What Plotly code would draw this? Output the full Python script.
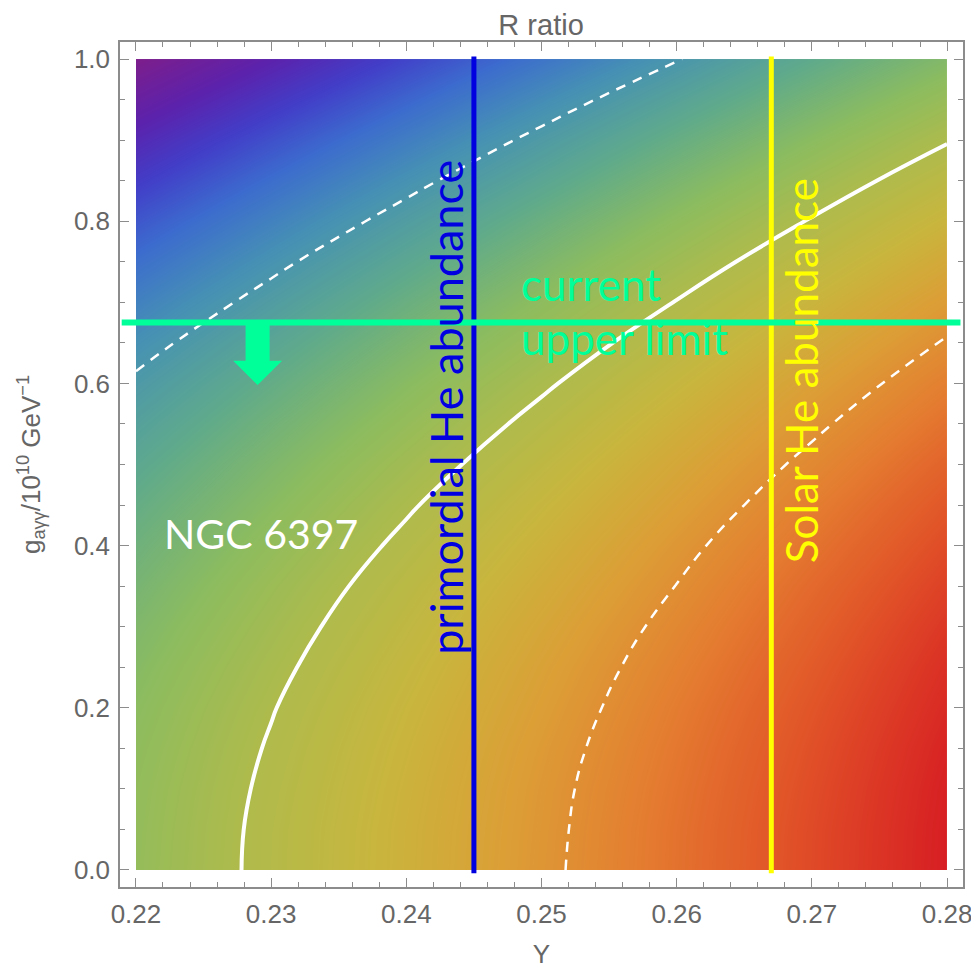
import plotly.graph_objects as go

# ---------------- data ----------------
Y_vals = [0.22, 0.23, 0.24, 0.25, 0.26, 0.27, 0.28]
g_vals = [0.00, 0.05, 0.10, 0.15, 0.20, 0.25, 0.30, 0.35, 0.40, 0.45, 0.50,
          0.55, 0.60, 0.65, 0.70, 0.75, 0.80, 0.85, 0.90, 0.95, 1.00]

# estimated R ratio on the (g, Y) grid: rows follow g_vals, columns follow Y_vals
R_grid = [
    [1.333, 1.406, 1.479, 1.553, 1.626, 1.699, 1.772],
    [1.331, 1.405, 1.478, 1.551, 1.625, 1.698, 1.771],
    [1.328, 1.401, 1.474, 1.548, 1.621, 1.694, 1.768],
    [1.322, 1.395, 1.468, 1.542, 1.615, 1.688, 1.762],
    [1.314, 1.387, 1.460, 1.533, 1.607, 1.680, 1.753],
    [1.303, 1.376, 1.449, 1.523, 1.596, 1.669, 1.743],
    [1.290, 1.363, 1.436, 1.510, 1.583, 1.656, 1.730],
    [1.274, 1.348, 1.421, 1.494, 1.567, 1.641, 1.714],
    [1.256, 1.330, 1.403, 1.476, 1.550, 1.623, 1.696],
    [1.236, 1.309, 1.383, 1.456, 1.529, 1.603, 1.676],
    [1.213, 1.287, 1.360, 1.433, 1.507, 1.580, 1.653],
    [1.188, 1.262, 1.335, 1.408, 1.482, 1.555, 1.628],
    [1.161, 1.234, 1.308, 1.381, 1.454, 1.528, 1.601],
    [1.131, 1.205, 1.278, 1.351, 1.425, 1.498, 1.571],
    [1.099, 1.172, 1.246, 1.319, 1.392, 1.466, 1.539],
    [1.065, 1.138, 1.211, 1.285, 1.358, 1.431, 1.504],
    [1.028, 1.101, 1.174, 1.248, 1.321, 1.394, 1.467],
    [0.988, 1.062, 1.135, 1.208, 1.282, 1.355, 1.428],
    [0.947, 1.020, 1.093, 1.167, 1.240, 1.313, 1.386],
    [0.903, 0.976, 1.049, 1.123, 1.196, 1.269, 1.342],
    [0.856, 0.929, 1.003, 1.076, 1.149, 1.223, 1.296],
]

R_obs = 1.39      # solid contour (NGC 6397)
R_low = 1.152     # dashed contour, lower
R_high = 1.566    # dashed contour, upper

Y_primordial = 0.245
Y_solar = 0.267
g_limit = 0.675

x_ticks = [0.22, 0.23, 0.24, 0.25, 0.26, 0.27, 0.28]
y_ticks = [0.0, 0.2, 0.4, 0.6, 0.8, 1.0]

# ---------------- styling ----------------
rainbow = [
    [0.00, "rgb(125,30,140)"],
    [0.08, "rgb(92,34,172)"],
    [0.15, "rgb(66,62,200)"],
    [0.22, "rgb(60,108,206)"],
    [0.30, "rgb(70,145,180)"],
    [0.40, "rgb(95,170,140)"],
    [0.50, "rgb(140,188,95)"],
    [0.58, "rgb(174,187,76)"],
    [0.66, "rgb(200,182,62)"],
    [0.74, "rgb(220,158,54)"],
    [0.82, "rgb(228,124,48)"],
    [0.90, "rgb(225,84,40)"],
    [1.00, "rgb(215,30,35)"],
]

label_family = "Liberation Sans, Arial, sans-serif"
axis_font = dict(family=label_family, size=26, color="#666666")
note_font = "Lato, Open Sans, sans-serif"
frame_col = "#8c8c8c"
green = "#00ff99"
blue = "#0000e0"
yellow = "#ffff00"

fig = go.Figure()

# smooth colour field
fig.add_trace(go.Contour(
    x=Y_vals, y=g_vals, z=R_grid,
    colorscale=rainbow, zmin=min(min(r) for r in R_grid), zmax=max(max(r) for r in R_grid),
    contours=dict(coloring="heatmap", showlines=False),
    line=dict(width=0),
    showscale=False, hoverinfo="skip",
))
# solid contour
fig.add_trace(go.Contour(
    x=Y_vals, y=g_vals, z=R_grid,
    contours=dict(coloring="none", start=R_obs, end=R_obs, size=1),
    line=dict(color="white", width=4, smoothing=1.3),
    showscale=False, hoverinfo="skip",
))
# dashed contours
fig.add_trace(go.Contour(
    x=Y_vals, y=g_vals, z=R_grid,
    contours=dict(coloring="none", start=R_low, end=R_high, size=R_high - R_low),
    line=dict(color="white", width=2.5, dash="10px,8px", smoothing=1.3),
    showscale=False, hoverinfo="skip",
))

# arrow below the current upper limit
arrow_x = 0.229
arrow_head_base = 0.628
arrow_tip = 0.598
shaft_hw = 0.00089
head_hw = 0.00181
arrow_path = (
    f"M {arrow_x - shaft_hw},{g_limit} L {arrow_x + shaft_hw},{g_limit} "
    f"L {arrow_x + shaft_hw},{arrow_head_base} L {arrow_x + head_hw},{arrow_head_base} "
    f"L {arrow_x},{arrow_tip} L {arrow_x - head_hw},{arrow_head_base} "
    f"L {arrow_x - shaft_hw},{arrow_head_base} Z"
)

shapes = [
    dict(type="line", xref="x", yref="y", x0=Y_primordial, x1=Y_primordial, y0=-0.004, y1=1.003,
         line=dict(color=blue, width=5)),
    dict(type="line", xref="x", yref="y", x0=Y_solar, x1=Y_solar, y0=-0.004, y1=1.003,
         line=dict(color=yellow, width=5)),
    dict(type="line", xref="paper", yref="y", x0=0.002, x1=0.997, y0=g_limit, y1=g_limit,
         line=dict(color=green, width=6)),
    dict(type="path", xref="x", yref="y", path=arrow_path, fillcolor=green, line=dict(width=0)),
]

annotations = [
    dict(x=0.24293, y=0.571, xref="x", yref="y", text="primordial He abundance", textangle=-90,
         showarrow=False, font=dict(family=note_font, size=45, color=blue)),
    dict(x=0.2692, y=0.615, xref="x", yref="y", text="Solar He abundance", textangle=-90,
         showarrow=False, font=dict(family=note_font, size=44, color=yellow)),
    dict(x=0.24837, y=0.722, xref="x", yref="y", text="current", xanchor="left",
         showarrow=False, font=dict(family=note_font, size=44, color=green)),
    dict(x=0.24837, y=0.656, xref="x", yref="y", text="upper limit", xanchor="left",
         showarrow=False, font=dict(family=note_font, size=44, color=green)),
    dict(x=0.22195, y=0.4155, xref="x", yref="y", text="NGC 6397", xanchor="left",
         showarrow=False, font=dict(family=note_font, size=41, color="white")),
]

common_axis = dict(
    showline=True, linecolor=frame_col, linewidth=1.5, mirror="ticks",
    ticks="inside", tickcolor=frame_col, tickwidth=1.2, ticklen=9,
    showgrid=False, zeroline=False, tickfont=axis_font, automargin=False,
)

# the page body adds an 8px offset, so the figure is 8px smaller than the window
fig.update_layout(
    width=971, height=961,
    margin=dict(l=112, r=16, t=34, b=82),
    paper_bgcolor="white", plot_bgcolor="white",
    showlegend=False,
    title=dict(text="R ratio", x=0.549, xanchor="center", y=0.982, yanchor="middle",
               xref="container", yref="container",
               font=dict(family=label_family, size=29, color="#666666")),
    xaxis=dict(
        range=[0.21882, 0.28118], tickvals=x_ticks, ticktext=[f"{v:.2f}" for v in x_ticks],
        minor=dict(tickvals=[round(0.22 + 0.002 * i, 3) for i in range(31)], ticks="inside",
                   ticklen=5, tickcolor=frame_col, tickwidth=1, showgrid=False),
        ticklabelstandoff=3,
        title=dict(text="Y", font=dict(family=label_family, size=26, color="#666666"), standoff=18),
        **common_axis,
    ),
    yaxis=dict(
        range=[-0.021, 1.021], tickvals=y_ticks, ticktext=[f"{v:.1f}" for v in y_ticks],
        minor=dict(tickvals=[round(0.05 * i, 2) for i in range(21)], ticks="inside",
                   ticklen=5, tickcolor=frame_col, tickwidth=1, showgrid=False),
        ticklabelstandoff=3,
        title=dict(text="g<sub>aγγ</sub>/10<sup>10</sup> GeV<sup>−1</sup>",
                   font=dict(family=label_family, size=26, color="#666666"), standoff=26),
        **common_axis,
    ),
    shapes=shapes,
    annotations=annotations,
)

fig.write_html("out.html")
